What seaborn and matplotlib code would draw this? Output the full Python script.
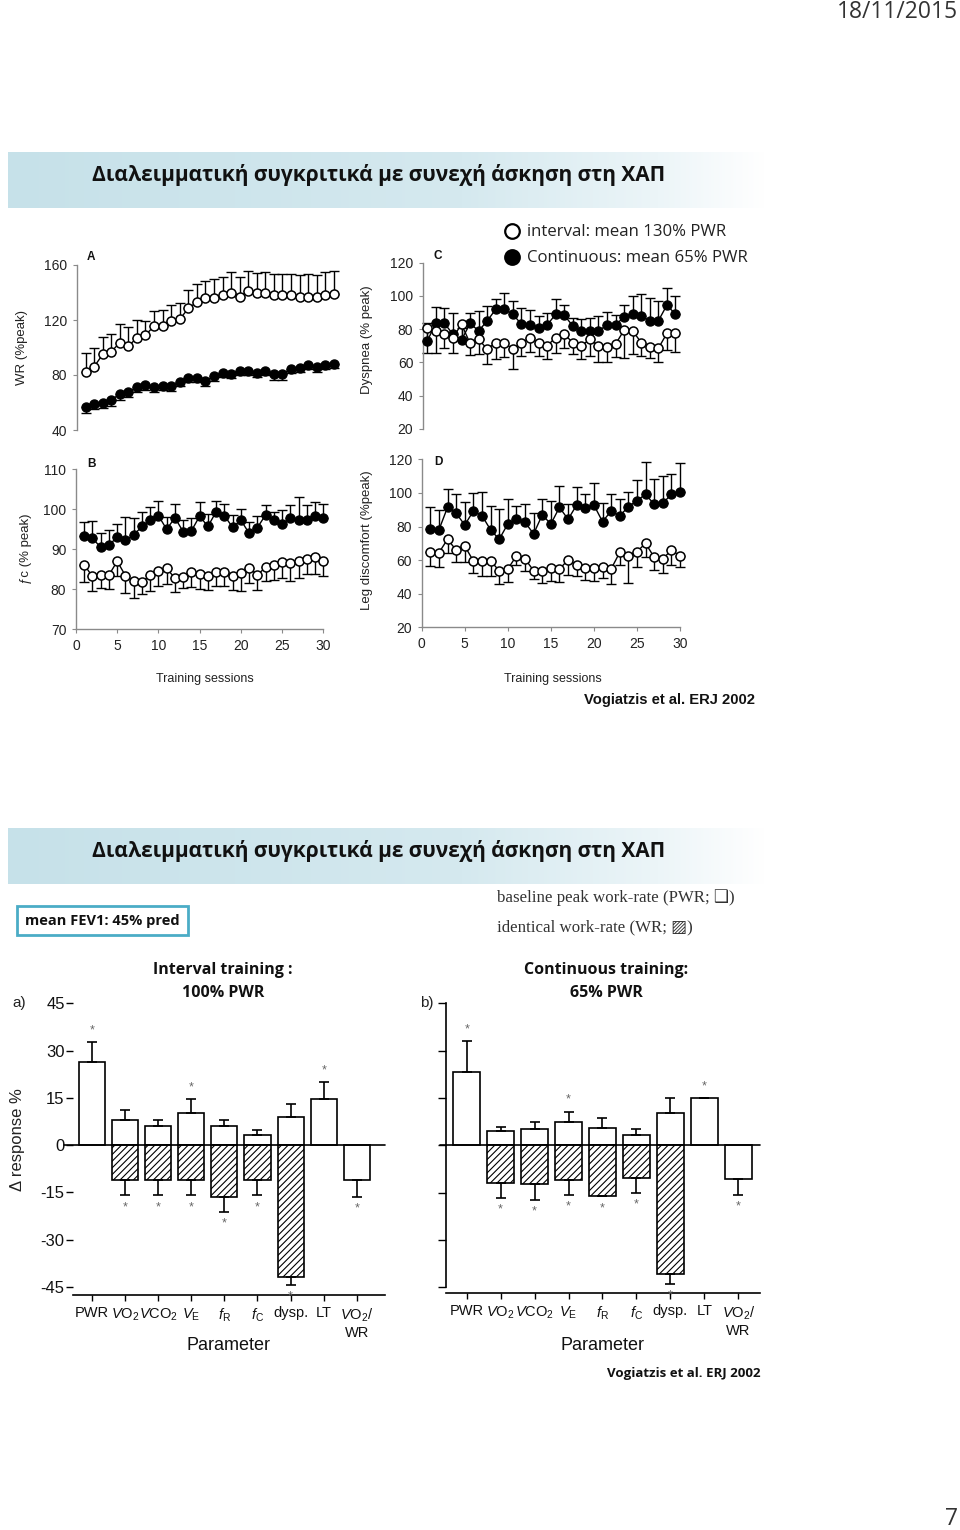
import numpy as np
import pandas as pd
import matplotlib
matplotlib.use("Agg")
import matplotlib.pyplot as plt
import seaborn as sns
from matplotlib.patches import Rectangle

# ---------------- data: training sessions (Vogiatzis et al. 2002) ----------------
sessions = list(range(1, 31))

# A: WR (%peak)
wr_interval = [82, 86, 95, 97, 103.5, 101, 107, 109, 115.6, 116, 119.5, 120.5, 128.5, 133, 136,
               136, 138, 140, 137, 141, 140, 140, 138, 138, 138, 136.5, 136.5, 136.5, 138, 139]
wr_interval_err = [14, 13.5, 12.4, 13, 13.5, 14, 13, 10, 11.2, 11, 11.5, 12.1, 13.5, 13, 12.6,
                   13.6, 13.5, 14.7, 14.5, 14.6, 14, 15, 15.5, 15.5, 15.5, 16.5, 17, 16.5, 17, 16.6]
wr_continuous = [57, 59, 60, 62, 66, 67.4, 71.5, 72.7, 71, 72, 72, 75, 78, 78, 76,
                 79, 81.7, 81, 83, 83, 81.7, 83, 80.7, 80.7, 84.6, 85.3, 87.3, 86, 87.3, 88]
wr_continuous_err = [4.5, 4, 4, 4.5, 4, 3.5, 3.5, 3.5, 3, 3, 3.5, 3, 3, 3, 4,
                     3.5, 3.5, 3, 3, 3, 3.5, 3, 4, 4, 3, 3, 3, 3.5, 3, 3]

# C: Dyspnea (% peak)
dysp_continuous = [73, 83.5, 83.5, 77, 73.5, 83.5, 79, 85, 92, 92, 89, 83, 82.5, 81, 82.5,
                   89, 88.5, 82, 79, 79, 79, 82.5, 82.5, 87.5, 89, 88, 85, 85, 94.5, 89]
dysp_continuous_err = [11, 10, 9, 13, 7, 6, 12, 9, 6, 10, 8, 10, 9, 7, 7,
                       9, 6, 5, 7, 8, 9, 8, 6, 7, 11, 13, 14, 12, 10, 11]
dysp_interval = [80.5, 79, 77, 75, 83, 71.5, 74, 68, 72, 72, 68, 72, 74.5, 72, 70,
                 75, 77, 72, 70, 74, 70, 69.5, 71, 79.5, 79, 72, 69.5, 68.5, 77.5, 77.5]
dysp_interval_err = [15, 13, 8, 9, 9, 7, 9, 9, 10, 9, 12, 8, 8, 8, 8,
                     9, 8, 7, 8, 10, 10, 9, 8, 17, 14, 8, 7, 8, 10, 11]

# B: fc (% peak)
fc_continuous = [93.3, 92.75, 90.5, 91.1, 93, 92.2, 93.6, 95.7, 97.3, 98.4, 95, 97.9, 94.4, 94.6, 98.3,
                 95.7, 99.4, 98.4, 95.5, 97.3, 94, 95.4, 98.6, 97.2, 96.3, 97.9, 97.3, 97.3, 98.2, 97.9]
fc_continuous_err = [3.5, 4.3, 3.5, 3.8, 3.2, 5.8, 4.2, 3.7, 3.2, 3.6, 3, 3.3, 2.8, 3.2, 3.4,
                     3.1, 2.6, 3, 3, 2.7, 2.8, 3, 2.5, 2.2, 3.6, 3.2, 5.7, 3.7, 3.5, 3.5]
fc_interval = [86.1, 83.2, 83.6, 83.6, 87, 83.4, 82, 81.8, 83.6, 84.6, 85.2, 82.8, 83, 84.2, 83.8,
               83.2, 84.2, 84.2, 83.4, 84, 85.4, 83.6, 85.5, 86.1, 86.7, 86.6, 87.1, 87.6, 88, 87.1]
fc_interval_err = [4.3, 3.6, 3.3, 3.6, 3.7, 4.3, 4.3, 3, 4, 3.7, 4, 3.4, 2.7, 3.7, 3.8,
                   3.5, 3.4, 3.4, 3.7, 4.5, 3.8, 3.7, 3.4, 3.7, 3.8, 4.6, 4.2, 3.8, 4.3, 3.7]

# D: Leg discomfort (%peak)
leg_continuous = [78.5, 78, 91.4, 87.9, 80.9, 89.2, 86.5, 78, 72.4, 81.5, 84.5, 82.5, 75.6, 86.9, 81.5,
                  91.4, 84.3, 92.8, 90.8, 92.8, 82.9, 89.2, 86.3, 91.8, 95.4, 99.2, 93.2, 93.8, 99.2, 100.4]
leg_continuous_err = [13, 12, 10.7, 11.5, 13.5, 11, 14.3, 14.2, 17.9, 14.9, 7.7, 10.9, 12.7, 9.5, 13.7,
                      12.9, 9.1, 10.5, 8.4, 12.9, 10.9, 10, 9.9, 9, 12.3, 19.4, 14.9, 16.3, 12.1, 17.2]
leg_interval = [65, 64.4, 72.4, 66, 68.4, 59.5, 59.5, 59.5, 53.7, 54.7, 62.5, 60.7, 53.7, 53.7, 55.1,
                54.7, 60.1, 57.1, 55.1, 55.1, 56.1, 54.7, 64.6, 62.5, 65, 70, 61.7, 60.7, 66, 62.5]
leg_interval_err = [8.5, 8.8, 8.4, 7.3, 9.7, 7, 8.9, 8.9, 8.1, 7.5, 5.4, 7, 5.1, 7.5, 7.3,
                    7.5, 8.9, 6.5, 6.9, 7.3, 6.9, 8.9, 7.5, 16.3, 8.9, 7.9, 7.6, 8.6, 8.9, 6.9]

# ---------------- data: delta response bars ----------------
params = ["PWR", "VO2", "VCO2", "VE", "fR", "fC", "dysp", "LT", "VO2/WR"]
param_labels = ["PWR", r"$\mathit{V}$O$_2$", r"$\mathit{V}$CO$_2$", r"$\mathit{V}_\mathrm{E}$",
                r"$\mathit{f}_\mathrm{R}$", r"$\mathit{f}_\mathrm{C}$", "dysp.", "LT",
                r"$\mathit{V}$O$_2$/" + "\nWR"]
nan = np.nan
# a) interval training
a_pwr = [26.4, 7.8, 5.9, 10.1, 6.2, 3.2, 9.0, 14.6, -11.2]
a_pwr_err = [6.3, 3.2, 1.9, 4.5, 1.6, 1.6, 4.0, 5.4, 5.3]
a_wr = [nan, -11.0, -11.2, -11.2, -16.5, -11.2, -41.8, nan, nan]
a_wr_err = [nan, 5.0, 4.8, 4.8, 4.8, 4.8, 2.6, nan, nan]
a_star_up = [1, 0, 0, 1, 0, 0, 0, 1, 0]
a_star_down = [0, 1, 1, 1, 1, 1, 1, 0, 1]
# b) continuous training
b_pwr = [23.3, 4.5, 5.3, 7.5, 5.6, 3.2, 10.2, 14.9, -10.8]
b_pwr_err = [9.6, 1.4, 2.2, 3.2, 3.0, 2.1, 4.7, 0, 4.8]
b_wr = [nan, -11.8, -12.4, -11.0, -16.2, -10.2, -40.7, nan, nan]
b_wr_err = [nan, 4.8, 4.8, 4.8, 0, 4.9, 3.2, nan, nan]
b_star_up = [1, 0, 0, 1, 0, 0, 0, 1, 0]
b_star_down = [0, 1, 1, 1, 1, 1, 1, 0, 1]

# ---------------- style ----------------
sns.set_style("white")
SANS = ["Liberation Sans", "DejaVu Sans"]
NARROW = ["Liberation Sans Narrow", "Liberation Sans", "DejaVu Sans"]
CAL = ["Open Sans", "DejaVu Sans"]
SERIF = ["Liberation Serif", "DejaVu Serif", "DejaVu Sans"]
plt.rcParams["font.family"] = SANS
plt.rcParams["mathtext.fontset"] = "custom"
plt.rcParams["mathtext.rm"] = "Liberation Sans"
plt.rcParams["mathtext.it"] = "Liberation Sans:italic"
plt.rcParams["mathtext.bf"] = "Liberation Sans:bold"
plt.rcParams["hatch.linewidth"] = 0.8

W, H = 960, 1530
fig = plt.figure(figsize=(W / 100, H / 100), dpi=100)
fig.patch.set_facecolor("white")
bg = fig.add_axes([0, 0, 1, 1])
bg.axis("off")


def px_axes(x0, y0, x1, y1):
    ax = fig.add_axes([x0 / W, 1 - y1 / H, (x1 - x0) / W, (y1 - y0) / H])
    ax.set_facecolor("none")
    return ax


def T(x, y, s, size, ha="left", va="center", **kw):
    return bg.text(x, y, s, fontsize=size, ha=ha, va=va, **kw)


def banner(y0, y1):
    xs = np.linspace(0, 1, 500)
    sx = [0, 0.6, 0.86, 1.0]
    cols = np.array([[198, 225, 233], [213, 233, 239], [236, 245, 248], [255, 255, 255]]) / 255.0
    rgb = np.stack([np.interp(xs, sx, cols[:, k]) for k in range(3)], axis=-1)
    img = np.tile(rgb[None, :, :], (2, 1, 1))
    bg.imshow(img, extent=[8, 765, y1, y0], aspect="auto", interpolation="bilinear", zorder=0)


banner(152, 208)
banner(828, 884)
bg.set_xlim(0, W)
bg.set_ylim(H, 0)

TITLE = "Διαλειμματική συγκριτικά με συνεχή άσκηση στη ΧΑΠ"
T(379, 175, TITLE, 15, ha="center", family=CAL, weight="bold", color="#111")
T(379, 851, TITLE, 15, ha="center", family=CAL, weight="bold", color="#111")
T(958, 12, "18/11/2015", 16.5, ha="right", family=CAL, color="#333")
T(958, 1519, "7", 16.5, ha="right", family=CAL, color="#333")

# legend top right
bg.plot([512], [231], marker="o", ms=10.5, mfc="white", mec="black", mew=1.6, ls="none")
bg.plot([512], [257], marker="o", ms=10.5, mfc="black", mec="black", mew=1.6, ls="none")
T(527, 232, "interval: mean 130% PWR", 12.1, family=CAL, color="#222")
T(527, 258, "Continuous: mean 65% PWR", 12.1, family=CAL, color="#222")
T(755, 700, "Vogiatzis et al. ERJ 2002", 10.6, ha="right", family=SANS, weight="bold", color="#111")


def session_panel(rect, xlim, ylim, yticks, show_x, letter, letter_xy, ylabel, ylabel_xy,
                  open_v, open_e, open_up, fill_v, fill_e, fill_up):
    ax = px_axes(*rect)
    for v, e, up in [(open_v, open_e, open_up), (fill_v, fill_e, fill_up)]:
        e = np.asarray(e)
        z = np.zeros_like(e)
        yerr = [z, e] if up else [e, z]
        ax.errorbar(sessions, v, yerr=yerr, fmt="none", ecolor="black", elinewidth=1.0,
                    capsize=3.6, capthick=1.0, zorder=2, clip_on=False)
    sns.lineplot(x=sessions, y=fill_v, ax=ax, color="black", lw=1.0, marker="o", ms=6.5,
                 mfc="black", mec="black", mew=1.0, zorder=3, clip_on=False)
    sns.lineplot(x=sessions, y=open_v, ax=ax, color="black", lw=1.0, marker="o", ms=6.5,
                 mfc="white", mec="black", mew=1.1, zorder=4, clip_on=False)
    ax.set_xlim(*xlim)
    ax.set_ylim(*ylim)
    ax.set_yticks(yticks)
    ax.set_xlabel("")
    ax.set_ylabel("")
    for s in ["top", "right"]:
        ax.spines[s].set_visible(False)
    ax.spines["left"].set_color("#8a8a8a")
    ax.spines["left"].set_linewidth(1.0)
    ax.tick_params(axis="y", left=True, direction="out", length=3, width=0.8, color="#8a8a8a",
                   labelsize=10, pad=4, labelcolor="#222")
    if show_x:
        ax.spines["bottom"].set_color("#8a8a8a")
        ax.spines["bottom"].set_linewidth(1.0)
        ax.set_xticks([0, 5, 10, 15, 20, 25, 30])
        ax.tick_params(axis="x", bottom=True, direction="out", length=3, width=0.8,
                       color="#8a8a8a", labelsize=10, pad=4, labelcolor="#222")
    else:
        ax.spines["bottom"].set_visible(False)
        ax.set_xticks([])
    T(letter_xy[0], letter_xy[1], letter, 8.5, ha="center", weight="bold", color="#111")
    T(ylabel_xy[0], ylabel_xy[1], ylabel, 9.5, ha="center", rotation=90, color="#222")
    return ax


session_panel((77, 265, 342.4, 430), (0, 31), (40, 160), [40, 80, 120, 160], False,
              "A", (91, 257), "WR (%peak)", (22, 347),
              wr_interval, wr_interval_err, True, wr_continuous, wr_continuous_err, False)
session_panel((423, 262.7, 684, 429), (0.5, 31), (20, 120), [20, 40, 60, 80, 100, 120], False,
              "C", (438, 256), "Dyspnea (% peak)", (367, 340),
              dysp_interval, dysp_interval_err, False, dysp_continuous, dysp_continuous_err, True)
session_panel((76, 469.3, 323.3, 629.3), (0, 30), (70, 110), [70, 80, 90, 100, 110], True,
              "B", (91, 464), "ƒc (% peak)", (26, 549),
              fc_interval, fc_interval_err, False, fc_continuous, fc_continuous_err, True)
session_panel((421.7, 459.3, 680, 627.3), (0, 30), (20, 120), [20, 40, 60, 80, 100, 120], True,
              "D", (438, 462), "Leg discomfort (%peak)", (367, 540),
              leg_interval, leg_interval_err, False, leg_continuous, leg_continuous_err, True)
T(205, 679, "Training sessions", 9, ha="center", color="#222")
T(553, 679, "Training sessions", 9, ha="center", color="#222")

# ---------------- lower slide ----------------
bg.add_patch(Rectangle((17, 906), 171, 29, fill=False, edgecolor="#4bacc6", lw=2, zorder=3))
T(102.5, 921, "mean FEV1: 45% pred", 10.5, ha="center", family=CAL, weight="bold", color="#111")
T(497, 898, "baseline peak work-rate (PWR; ❑)", 12.2, family=SERIF, color="#333")
T(497, 927, "identical work-rate (WR; ▨)", 12.2, family=SERIF, color="#333")
T(223, 970, "Interval training :", 11.5, ha="center", family=CAL, weight="bold", color="#111")
T(223, 993, "100% PWR", 11.5, ha="center", family=CAL, weight="bold", color="#111")
T(606, 970, "Continuous training:", 11.5, ha="center", family=CAL, weight="bold", color="#111")
T(606, 993, "65% PWR", 11.5, ha="center", family=CAL, weight="bold", color="#111")
T(12, 1003, "a)", 11, family=NARROW, color="#222")
T(420, 1003, "b)", 11, family=NARROW, color="#222")
T(18, 1140, "Δ response %", 12, ha="center", rotation=90, family=NARROW, color="#222")
T(607, 1374, "Vogiatzis et al. ERJ 2002", 9.5, family=CAL, weight="bold", color="#111")


def bar_panel(rect, xlim, ylim, pwr, pwr_err, wr, wr_err, up, down, labelled, zero_left):
    ax = px_axes(*rect)
    df = pd.DataFrame({"param": params, "pwr": pwr, "wr": wr})
    sns.barplot(data=df, x="param", y="pwr", order=params, color="white", edgecolor="black",
                linewidth=1.2, width=0.79, saturation=1, errorbar=None, ax=ax, zorder=2)
    sns.barplot(data=df, x="param", y="wr", order=params, color="white", edgecolor="black",
                linewidth=1.2, width=0.79, saturation=1, errorbar=None, hatch="/////", ax=ax,
                zorder=2)
    pos = np.arange(len(params))
    pv, pe = np.asarray(pwr, float), np.asarray(pwr_err, float)
    lo = np.where(pv < 0, pe, 0)
    hi = np.where(pv >= 0, pe, 0)
    ax.errorbar(pos, pv, yerr=[lo, hi], fmt="none", ecolor="black", elinewidth=1.2,
                capsize=3.4, capthick=1.2, zorder=3)
    wv, we = np.asarray(wr, float), np.asarray(wr_err, float)
    ok = ~np.isnan(wv)
    ax.errorbar(pos[ok], wv[ok], yerr=[we[ok], np.zeros(ok.sum())], fmt="none", ecolor="black",
                elinewidth=1.2, capsize=3.4, capthick=1.2, zorder=3)
    for i in range(len(params)):
        if up[i]:
            ax.text(pos[i], pv[i] + pe[i] + 3.7, "*", ha="center", va="center", fontsize=9,
                    color="#666")
        if down[i]:
            if not np.isnan(wv[i]):
                yb = wv[i] - we[i]
            else:
                yb = pv[i] - pe[i]
            ax.text(pos[i], yb - 3.7, "*", ha="center", va="center", fontsize=9, color="#666")
    ax.axhline(0, xmin=zero_left, xmax=1, color="black", lw=1.2, zorder=4, clip_on=False)
    ax.set_xlim(*xlim)
    ax.set_ylim(*ylim)
    ax.set_xlabel("")
    ax.set_ylabel("")
    for s in ["top", "right"]:
        ax.spines[s].set_visible(False)
    ax.spines["bottom"].set_color("black")
    ax.spines["bottom"].set_linewidth(1.2)
    ax.set_xticks(pos)
    ax.set_xticklabels(param_labels, fontfamily=NARROW, fontsize=10.5, color="#111")
    ax.tick_params(axis="x", bottom=True, direction="out", length=4, width=1.0, color="black",
                   pad=4)
    ax.set_yticks([45, 30, 15, 0, -15, -30, -45])
    if labelled:
        ax.spines["left"].set_visible(False)
        ax.set_yticklabels(["45", "30", "15", "0", "-15", "-30", "-45"], fontfamily=NARROW,
                           fontsize=12, color="#111")
        ax.tick_params(axis="y", left=True, direction="out", length=5, width=1.0,
                       color="black", pad=1)
    else:
        ax.spines["left"].set_color("black")
        ax.spines["left"].set_linewidth(1.2)
        ax.spines["left"].set_bounds(-45, 45)
        ax.set_yticklabels([])
        ax.tick_params(axis="y", left=True, direction="out", length=6, width=1.0,
                       color="black")
    return ax


bar_panel((73, 997, 385, 1295), (-0.57, 8.85), (-47.6, 47), a_pwr, a_pwr_err, a_wr, a_wr_err,
          a_star_up, a_star_down, True, -0.03)
bar_panel((446, 997, 760, 1293), (-0.61, 8.64), (-46.8, 47), b_pwr, b_pwr_err, b_wr, b_wr_err,
          b_star_up, b_star_down, False, -0.02)
T(228, 1345, "Parameter", 13, ha="center", family=NARROW, color="#111")
T(603, 1345, "Parameter", 13, ha="center", family=NARROW, color="#111")

fig.savefig("out.png", dpi=100, facecolor="white")
